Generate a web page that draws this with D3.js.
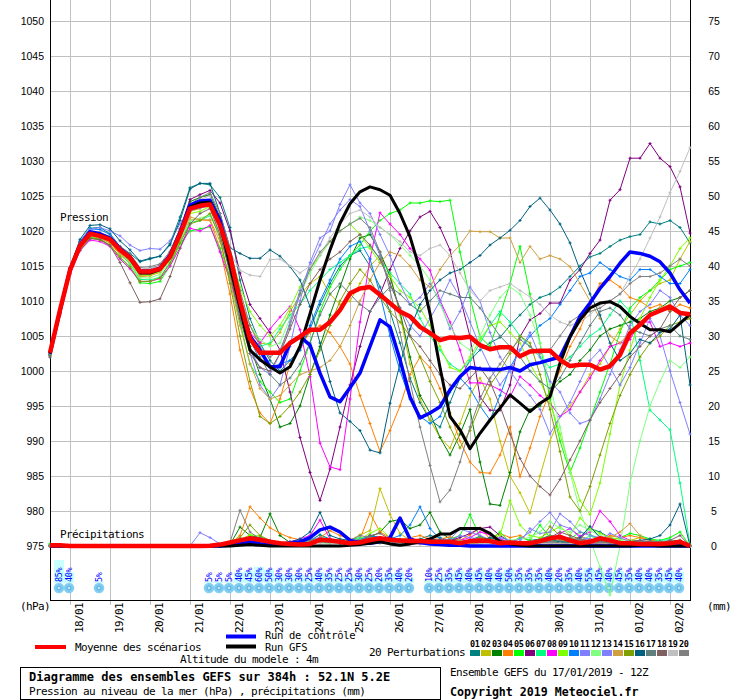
<!DOCTYPE html>
<html>
<head>
<meta charset="utf-8">
<script src="https://cdn.jsdelivr.net/npm/d3@7"></script>
<style>
  body { margin: 0; background: #fff; }
</style>
</head>
<body>
<div id="chart"></div>
<script>
// ---- axis labels / categories ----
const pressureTicks = [975, 980, 985, 990, 995, 1000, 1005, 1010, 1015, 1020, 1025, 1030, 1035, 1040, 1045, 1050];
const precipTicks = [0, 5, 10, 15, 20, 25, 30, 35, 40, 45, 50, 55, 60, 65, 70, 75];
const dayIdx = [2, 6, 10, 14, 18, 22, 26, 30, 34, 38, 42, 46, 50, 54, 58, 62]; // 6h steps from 17/01 12Z
const dayLabels = ['18/01', '19/01', '20/01', '21/01', '22/01', '23/01', '24/01', '25/01',
                   '26/01', '27/01', '28/01', '29/01', '30/01', '31/01', '01/02', '02/02'];

const pertColors = ['#008080', '#c0c000', '#008000', '#ff8000', '#00ff00', '#800080', '#00ff80', '#ff00ff',
                    '#80ff00', '#0080ff', '#8080ff', '#80ff80', '#8080ff', '#d0a040', '#80a000', '#006080',
                    '#608080', '#806060', '#c0c0c0', '#808080'];

// ---- sea level pressure (hPa), every 6h, 65 steps ----
const p01 = [1002.0,1008.5,1014.6,1018.5,1020.4,1020.5,1019.6,1017.8,1016.8,1015.6,1016.0,1016.4,1018.2,
  1022.0,1026.2,1026.8,1026.6,1024.8,1020.5,1013.0,1007.5,1004.0,1001.5,1000.0,1001.5,1003.0,
  1006.0,1009.5,1012.5,1015.0,1016.5,1017.2,1015.0,1012.0,1008.5,1004.0,999.0,995.5,993.0,
  992.0,995.5,999.0,1001.5,1003.0,1004.0,1004.8,1006.5,1008.0,1009.5,1010.5,1011.0,1012.0,
  1013.5,1015.0,1016.3,1016.8,1017.8,1018.7,1019.2,1019.5,1021.3,1021.0,1021.5,1020.5,1018.3];
const p02 = [1002.2,1008.4,1014.2,1017.6,1019.2,1019.0,1018.4,1016.9,1015.6,1013.8,1013.9,1014.4,1016.4,
  1019.4,1022.8,1023.2,1023.9,1021.5,1016.5,1010.5,1006.5,1004.0,1003.8,1005.5,1008.5,1010.8,
  1012.5,1013.5,1011.0,1009.5,1010.0,1012.5,1015.0,1016.5,1014.0,1008.0,1001.0,996.0,993.0,
  990.5,989.0,992.5,996.5,999.0,996.0,990.0,985.0,982.6,979.7,985.0,990.0,993.5,
  995.0,997.0,999.5,1001.0,1003.5,1006.0,1008.0,1010.0,1011.5,1012.5,1013.0,1016.0,1018.5];
const p03 = [1002.4,1008.9,1014.6,1018.3,1019.8,1019.4,1018.6,1017.1,1015.8,1014.0,1014.3,1014.9,1016.6,
  1020.0,1024.2,1024.8,1025.2,1022.0,1016.0,1009.0,1003.5,999.5,996.0,992.0,992.5,995.0,
  999.5,1003.5,1008.0,1012.0,1016.0,1019.0,1019.5,1017.0,1013.5,1008.5,1002.0,996.5,994.0,
  990.5,988.0,991.0,994.5,987.0,981.0,980.8,985.5,991.3,994.5,995.0,997.0,998.5,
  999.5,1001.5,1003.0,1005.0,1006.0,1006.5,1007.0,1007.5,1008.5,1009.0,1010.0,1010.5,1011.5];
const p04 = [1002.5,1008.3,1014.0,1017.4,1019.0,1018.9,1018.3,1016.6,1015.4,1013.5,1013.6,1014.1,1016.0,
  1019.0,1021.6,1021.6,1021.5,1017.5,1011.0,1003.0,997.5,994.0,992.5,996.0,1001.0,1003.5,
  1005.5,1006.5,1005.5,1003.5,1001.0,996.5,992.5,988.5,991.5,995.0,999.5,1002.0,1000.5,
  997.5,994.0,990.0,987.0,985.5,985.4,988.0,992.0,984.9,989.0,993.5,997.0,1000.0,
  1003.5,1006.0,1009.5,1012.5,1013.0,1012.0,1010.5,1010.0,1009.0,1009.5,1008.5,1009.5,1009.0];
const p05 = [1002.3,1008.5,1014.1,1017.6,1019.1,1018.8,1018.0,1016.2,1014.8,1012.6,1012.5,1012.8,1015.0,
  1018.2,1020.0,1020.3,1020.6,1017.5,1013.5,1007.0,1001.0,998.5,997.0,995.5,996.0,1000.0,
  1004.0,1008.5,1012.0,1014.5,1016.5,1018.0,1020.0,1021.5,1022.5,1023.0,1024.0,1024.0,1024.3,
  1024.2,1024.4,1017.0,1010.5,1004.9,1003.5,1008.0,1012.5,1017.8,1011.0,1004.0,996.0,990.0,
  985.5,989.0,993.0,997.0,1001.0,1005.5,1009.0,1010.5,1011.5,1013.0,1014.5,1015.0,1015.5];
const p06 = [1002.4,1008.6,1014.5,1018.1,1019.8,1019.5,1019.0,1017.5,1016.3,1014.5,1014.6,1015.1,1016.9,
  1020.3,1024.5,1025.2,1025.8,1024.0,1020.0,1014.0,1009.5,1007.5,1005.5,1003.0,997.0,990.5,
  985.5,981.5,986.0,992.0,998.0,1003.5,1008.5,1011.0,1014.5,1017.5,1020.0,1022.0,1022.8,
  1020.5,1017.3,1010.6,1004.9,996.3,994.4,994.4,998.0,1004.9,1007.3,1008.2,1009.7,1009.7,
  1013.0,1014.5,1016.8,1018.7,1024.4,1025.9,1030.4,1030.4,1032.5,1030.4,1029.2,1026.3,1019.7];
const p07 = [1002.2,1008.6,1014.3,1017.8,1019.4,1019.1,1018.5,1016.8,1015.3,1013.1,1013.0,1013.4,1015.5,
  1018.6,1021.2,1021.5,1022.2,1019.5,1014.5,1009.0,1005.0,1003.5,1004.0,1006.0,1008.0,1009.5,
  1011.5,1013.0,1014.5,1015.5,1016.5,1017.5,1017.8,1016.0,1014.0,1012.5,1011.0,1007.5,1005.0,
  1003.0,1001.0,1000.0,1001.5,1004.0,1006.5,1008.5,1007.0,1005.0,1003.5,1002.0,1000.5,1001.0,
  1002.0,1003.5,1005.0,1006.0,1008.0,1010.0,1008.5,1001.5,994.4,993.0,991.6,984.0,975.2];
const p08 = [1002.3,1008.2,1013.8,1017.2,1018.7,1018.5,1017.8,1016.0,1014.6,1012.8,1012.8,1013.2,1015.0,
  1017.6,1020.4,1020.0,1020.8,1017.0,1013.0,1008.5,1005.5,1004.0,1006.0,1007.7,1009.2,1005.9,
  999.2,989.7,986.3,985.9,996.0,1007.0,1016.0,1022.6,1021.0,1019.5,1017.5,1016.0,1014.4,
  1010.1,1007.0,1003.0,998.3,998.3,998.0,997.3,996.3,999.2,998.0,996.5,995.4,993.5,
  994.5,997.0,999.0,1001.5,1003.5,1004.0,1004.5,1007.0,1007.0,1003.5,1004.0,1003.5,1004.0];
const p09 = [1002.5,1008.8,1014.5,1018.0,1019.7,1019.4,1018.7,1017.0,1015.7,1013.6,1013.7,1014.2,1016.0,
  1019.2,1022.5,1022.8,1023.5,1021.0,1017.0,1012.0,1008.5,1006.5,1005.0,1006.5,1009.0,1012.0,
  1014.5,1016.5,1018.5,1020.0,1021.0,1019.5,1017.5,1015.5,1013.5,1011.5,1010.5,1009.0,1006.5,
  1003.5,1000.5,1000.0,1002.0,1004.5,1006.5,1007.0,1005.5,1004.0,1001.0,998.5,995.5,991.0,
  986.0,981.5,979.5,984.0,991.0,998.0,1003.0,1007.5,1010.5,1013.0,1015.0,1017.5,1019.0];
const p10 = [1002.6,1008.8,1014.7,1018.4,1020.3,1020.2,1019.5,1017.7,1016.5,1014.5,1014.4,1014.8,1016.6,
  1019.8,1023.5,1024.0,1024.0,1020.5,1015.5,1009.0,1004.5,1001.5,1000.5,1001.0,1001.5,1003.0,
  1006.5,1010.0,1013.0,1016.0,1017.8,1018.5,1016.0,1011.0,1005.0,1000.0,996.0,993.5,992.5,
  993.5,997.0,999.0,997.5,995.0,993.0,996.5,1000.5,1003.0,1005.0,1006.5,1007.5,1009.5,
  1011.5,1013.5,1014.0,1015.5,1014.5,1013.5,1013.0,1014.5,1014.5,1013.5,1012.5,1012.5,1014.5];
const p11 = [1002.4,1008.6,1014.7,1018.6,1020.2,1020.5,1020.0,1019.3,1018.0,1017.2,1017.5,1017.4,1018.6,
  1021.0,1023.3,1023.7,1024.3,1021.0,1015.5,1008.5,1002.5,998.0,996.0,998.0,1003.5,1010.0,
  1015.5,1019.0,1020.0,1023.8,1026.6,1024.0,1022.5,1019.5,1016.5,1012.5,1009.5,1010.5,1012.5,
  1010.0,1006.0,1008.5,1012.0,1010.0,1005.5,1002.0,1000.0,998.0,996.5,994.5,991.0,993.5,
  995.5,998.5,1001.5,1003.0,1000.5,998.0,1000.5,1004.0,1007.5,1005.0,1000.0,995.5,991.0];
const p12 = [1002.3,1008.5,1014.2,1017.7,1019.3,1019.1,1018.5,1016.8,1015.5,1013.3,1013.3,1013.8,1015.8,
  1018.7,1021.5,1021.8,1022.3,1020.0,1015.5,1010.0,1006.5,1004.5,1003.5,1004.0,1007.5,1011.0,
  1014.0,1016.5,1018.5,1020.0,1021.0,1022.0,1021.5,1020.5,1019.5,1018.0,1016.5,1015.0,1013.0,
  1009.5,1006.5,1004.0,1003.0,1005.0,1008.0,1010.5,1012.0,1011.0,1008.0,1004.0,998.0,992.0,
  985.5,980.0,976.0,972.0,968.0,975.0,984.0,990.0,995.0,998.5,1001.5,1000.5,1002.0];
const p13 = [1002.5,1008.7,1014.4,1017.9,1019.5,1019.3,1018.7,1017.2,1016.0,1014.0,1014.0,1014.5,1016.3,
  1019.6,1022.9,1023.3,1023.6,1020.5,1015.0,1008.0,1003.0,1000.5,999.5,1002.5,1007.0,1011.5,
  1015.0,1018.0,1021.0,1023.0,1024.5,1023.5,1020.0,1016.5,1012.5,1009.0,1006.5,1005.0,1007.5,
  1010.0,1013.0,1010.5,1007.0,1003.5,1000.5,998.0,1000.0,1003.0,1005.5,1002.0,998.5,997.0,
  994.0,992.5,993.0,996.0,999.5,1003.0,1006.5,1008.5,1009.5,1011.5,1010.5,1008.0,1006.5];
const p14 = [1002.5,1008.4,1014.2,1017.7,1019.3,1019.0,1018.4,1016.8,1015.7,1013.7,1013.8,1014.3,1016.1,
  1019.1,1022.0,1021.6,1021.6,1018.5,1013.0,1006.5,1001.0,997.5,996.0,996.5,998.0,999.5,
  1000.0,1000.5,1001.5,1003.5,1006.5,1010.0,1013.0,1015.5,1017.0,1016.5,1015.0,1013.0,1012.0,
  1014.5,1016.5,1018.0,1020.0,1019.9,1019.9,1019.0,1019.0,1015.5,1017.8,1016.0,1016.5,1016.0,
  1014.9,1012.5,1010.0,1007.5,1005.0,1004.0,1005.5,1007.0,1008.0,1009.0,1009.5,1008.5,1008.0];
const p15 = [1002.2,1008.3,1014.0,1017.5,1019.0,1018.7,1018.0,1016.3,1014.9,1012.8,1012.8,1013.3,1015.4,
  1018.3,1021.0,1021.5,1022.5,1019.0,1012.5,1005.0,998.5,993.5,992.5,993.5,995.0,997.0,
  999.5,1003.0,1006.5,1010.0,1012.5,1014.5,1013.0,1010.5,1008.5,1007.0,1005.0,1002.0,998.5,
  995.5,992.0,989.0,991.5,995.0,998.0,1000.0,1002.5,1005.0,1004.0,999.5,994.5,988.5,
  982.0,980.0,983.5,988.0,992.5,996.5,999.5,1002.0,1004.0,1005.0,1006.5,1007.0,1007.5];
const p16 = [1002.3,1008.7,1014.8,1018.8,1020.8,1020.9,1020.3,1018.6,1017.3,1015.7,1016.1,1016.4,1018.0,
  1021.5,1026.0,1026.8,1026.8,1022.5,1017.6,1016.8,1016.1,1016.1,1017.3,1016.4,1014.9,1013.0,
  1009.2,1004.0,998.5,994.0,992.8,991.5,988.7,988.3,995.4,1001.0,1006.0,1009.5,1011.5,
  1013.0,1014.0,1014.5,1015.5,1016.5,1018.0,1019.0,1020.1,1021.5,1023.5,1024.7,1023.0,1021.0,
  1018.3,1014.4,1011.0,1008.0,1004.0,1001.5,1002.5,1004.5,1004.0,1005.5,1006.0,1008.0,998.0];
const p17 = [1002.4,1008.6,1014.3,1017.9,1019.5,1019.3,1018.7,1017.2,1016.1,1014.1,1014.2,1014.6,1016.4,
  1019.6,1023.0,1023.5,1024.0,1021.0,1016.0,1010.5,1005.5,1002.0,999.5,998.0,999.0,1001.0,
  1004.0,1008.0,1011.0,1012.5,1011.0,1009.5,1008.5,1010.5,1012.0,1011.0,1009.5,1008.5,1010.0,
  1011.5,1011.0,1010.5,1010.5,1009.0,1007.0,1005.0,1003.5,1002.0,1000.0,998.5,997.5,999.0,
  1001.5,1004.0,1006.5,1008.5,1009.0,1008.0,1006.0,1005.5,1005.0,1006.0,1006.5,1005.0,1004.5];
const p18 = [1002.0,1008.0,1014.0,1017.2,1018.9,1018.8,1017.9,1015.5,1012.6,1009.8,1009.9,1010.3,1013.5,
  1017.5,1021.0,1022.5,1023.2,1019.5,1014.0,1007.5,1002.5,1000.5,1000.0,1002.5,1006.0,1009.5,
  1012.5,1014.5,1016.0,1017.0,1018.5,1019.5,1018.0,1016.0,1012.5,1009.0,1005.0,1003.5,1001.5,
  999.5,998.0,997.5,999.0,1000.5,998.5,995.0,991.0,987.5,985.0,983.5,982.3,984.5,
  987.3,990.0,993.0,995.5,997.5,999.5,1002.0,1003.5,1005.0,1006.0,1008.5,1010.5,1011.5];
const p19 = [1002.5,1008.7,1014.5,1018.1,1019.8,1019.6,1019.0,1017.6,1016.4,1014.5,1014.7,1015.0,1016.8,
  1020.0,1023.5,1024.5,1025.0,1021.5,1017.0,1014.4,1013.7,1013.5,1015.9,1016.0,1015.0,1014.0,
  1015.0,1016.5,1019.0,1021.0,1022.5,1023.0,1022.0,1020.5,1019.5,1018.5,1017.0,1016.5,1017.5,
  1018.0,1016.5,1014.0,1011.5,1010.0,1011.5,1012.0,1012.5,1011.5,1010.6,1009.5,1008.0,1007.0,
  1006.5,1007.0,1008.0,1009.5,1010.0,1011.0,1013.5,1016.0,1019.0,1022.0,1025.5,1028.5,1031.9];
const p20 = [1002.4,1008.7,1014.6,1018.2,1019.9,1019.7,1019.2,1017.8,1016.7,1014.8,1014.9,1015.3,1017.1,
  1020.3,1023.8,1024.8,1025.5,1022.5,1017.5,1011.5,1006.5,1003.5,1002.0,1003.0,1006.5,1011.0,
  1014.5,1017.0,1018.5,1020.0,1021.0,1021.8,1020.5,1017.0,1011.5,1005.5,998.5,992.0,986.5,
  981.3,983.0,987.0,992.0,996.0,999.0,1001.0,1003.0,1004.5,1003.5,1002.5,1003.0,1005.0,
  1007.0,1008.0,1008.5,1009.0,1010.0,1011.0,1012.5,1013.5,1013.5,1014.0,1015.0,1016.0,1015.0];

const pControl = [1002.5,1008.6,1014.5,1018.0,1019.9,1019.6,1019.0,1017.5,1016.3,1014.3,1014.2,1014.7,1016.5,
  1019.8,1023.7,1024.3,1024.4,1021.5,1016.0,1009.5,1005.0,1003.0,1000.6,1000.6,1004.0,1004.9,
  1003.7,999.7,996.3,995.6,997.6,999.7,1003.5,1007.3,1006.3,1001.6,996.3,993.3,994.0,
  994.9,997.3,999.2,1000.5,1000.3,1000.2,1000.2,1000.5,1000.0,1000.9,1001.2,1001.6,1002.0,
  1004.9,1007.8,1009.7,1011.8,1013.5,1015.4,1017.0,1016.8,1016.4,1015.6,1014.0,1011.6,1009.7];
const pGfs = [1002.5,1008.6,1014.4,1017.9,1019.7,1019.4,1018.9,1017.3,1016.1,1014.0,1014.0,1014.5,1016.3,
  1019.6,1023.4,1024.0,1024.1,1021.0,1015.0,1009.0,1003.0,1001.6,1000.6,999.7,1000.6,1003.5,
  1008.2,1013.0,1017.3,1021.1,1023.9,1025.6,1026.3,1025.9,1025.1,1022.5,1019.2,1014.4,1008.2,
  1000.5,993.5,991.6,988.9,991.1,993.0,994.7,996.6,995.4,994.2,995.4,996.3,1001.1,
  1004.9,1007.3,1009.0,1009.7,1009.9,1009.2,1007.8,1006.8,1005.9,1005.9,1005.6,1006.8,1008.1];
const pMean = [1002.6,1008.7,1014.4,1017.9,1019.6,1019.3,1018.8,1017.3,1016.2,1014.2,1014.2,1014.6,1016.3,
  1019.5,1023.2,1023.6,1023.8,1020.8,1016.5,1010.0,1004.6,1002.6,1002.6,1002.6,1004.0,1004.9,
  1005.9,1005.9,1007.0,1008.7,1011.1,1011.8,1012.0,1010.9,1009.7,1008.5,1007.8,1006.3,1005.4,
  1004.4,1004.8,1004.7,1004.9,1003.7,1003.1,1003.4,1003.4,1002.1,1002.8,1002.9,1002.9,1001.6,
  1000.7,1000.9,1000.9,1000.2,1000.7,1002.3,1005.4,1006.6,1008.0,1008.6,1009.2,1008.3,1008.1];

// ---- precipitation (mm / 6h) ----
const r01 = [0.2,0,0,0,0,0,0,0,0,0,0,0,0,
  0,0,0,0,0,0.3,0.8,1.2,0.9,0.6,0.3,0.2,0.2,
  0.8,1.6,1.0,0.6,0.4,0.8,1.5,1.2,0.8,0.6,0.5,1.0,1.5,
  1.2,0.8,0.6,0.8,1.4,0.7,0.5,0.6,0.4,0.8,1.0,1.5,1.3,
  0.8,1.0,2.5,2.0,1.2,0.6,0.4,0.3,0.5,0.6,0.7,0.8,0];
const r02 = [0,0,0,0,0,0,0,0,0,0,0,0,0,
  0,0,0,0,0,0.1,0.6,1.2,0.8,0.5,0.3,0.1,0.2,
  0.5,0.9,0.7,0.5,0.8,1.6,2.2,8.2,4.5,1.8,0.8,0.5,0.4,
  0.4,0.6,0.8,0.5,0.3,0.6,0.6,0.8,0.4,0.3,0.5,1.4,0.9,
  0.6,0.4,0.3,0.4,0.3,0.3,0.8,1.2,0.9,0.6,0.4,0.3,0];
const r03 = [0,0,0,0,0,0,0,0,0,0,0,0,0,
  0,0,0,0,0,0.2,2.7,1.5,1.2,4.6,1.5,0.5,0.3,
  0.6,1.2,1.0,0.6,0.5,0.7,1.2,2.0,3.5,3.8,2.5,3.0,4.8,
  2.0,1.0,0.8,0.6,1.2,0.8,0.6,0.4,0.3,0.5,0.6,0.8,0.6,
  0.5,0.5,0.4,0.3,0.5,0.4,0.6,0.4,0.3,0.5,0.4,0.6,0];
const r04 = [0,0,0,0,0,0,0,0,0,0,0,0,0,
  0,0,0,0,0,0.3,1.5,5.6,4.0,2.6,1.8,1.2,0.9,
  0.8,1.2,2.2,1.5,1.0,1.0,4.7,2.0,1.2,0.9,1.2,1.5,1.0,
  1.0,1.3,0.8,1.6,2.6,1.0,1.8,1.2,1.5,0.7,0.5,0.6,0.8,
  0.6,1.4,0.9,0.6,1.5,1.2,1.5,1.2,0.8,0.6,0.5,0.8,0];
const r05 = [0.3,0,0,0,0,0,0,0,0,0,0,0,0,
  0,0,0,0,0,0.2,0.9,1.0,0.8,0.6,0.4,0.3,0.5,
  0.6,0.5,0.4,0.6,0.7,0.5,0.6,0.8,1.0,0.6,0.5,0.4,0.5,
  0.8,1.0,1.5,4.5,1.2,0.8,2.0,0.5,1.2,0.8,3.0,1.2,0.6,
  1.0,2.0,1.6,1.0,0.8,1.2,1.8,1.5,1.0,0.8,1.2,2.0,0];
const r06 = [0,0,0,0,0,0,0,0,0,0,0,0,0,
  0,0,0,0,0,0.1,0.3,0.5,0.4,0.3,0.2,0.2,0.3,
  0.6,0.8,0.5,0.4,0.5,0.6,0.8,0.6,0.5,0.4,0.3,0.3,0.4,
  0.6,0.8,1.2,1.8,2.5,2.7,1.5,0.6,0.4,0.3,0.5,0.4,0.3,
  0.3,0.5,0.4,0.3,0.4,0.3,0.3,0.3,0.4,0.3,0.3,0.4,0];
const r07 = [0,0,0,0,0,0,0,0,0,0,0,0,0,
  0,0,0,0,0,0.1,0.5,1.5,0.8,0.4,0.3,0.2,0.3,
  0.5,0.8,0.6,0.5,0.9,1.2,0.8,0.6,0.5,1.0,0.6,0.5,0.8,
  0.6,0.4,0.5,0.6,0.8,0.5,0.4,0.6,0.5,0.4,0.6,0.8,0.5,
  0.4,0.6,1.5,0.8,0.5,0.6,0.4,0.5,0.6,0.8,0.9,0.5,0];
const r08 = [0,0,0,0,0,0,0,0,0,0,0,0,0,
  0,0,0,0,0,0.1,0.5,1.2,0.8,0.4,0.3,0.6,1.0,
  1.5,3.7,1.0,0.6,0.5,0.4,0.5,0.6,0.8,0.7,0.5,0.4,0.6,
  0.5,0.6,0.8,1.2,2.0,1.6,1.0,0.6,0.5,0.6,0.4,0.8,1.8,
  2.5,1.4,2.0,5.0,3.5,1.5,0.8,0.6,0.5,0.4,0.6,0.8,0];
const r09 = [0,0,0,0,0,0,0,0,0,0,0,0,0,
  0,0,0,0,0,0.2,0.9,1.6,1.4,0.6,0.4,0.3,0.5,
  0.6,0.5,0.6,0.8,0.6,1.0,1.8,2.5,1.2,0.8,0.6,0.5,0.6,
  0.6,0.7,0.5,0.6,0.8,1.0,1.5,6.5,3.0,1.5,1.2,2.0,2.8,
  1.5,4.0,2.5,1.8,1.2,1.0,0.8,0.6,0.6,0.5,0.6,0.8,0];
const r10 = [0,0,0,0,0,0,0,0,0,0,0,0,0,
  0,0,0,0,0,0.1,0.4,0.8,1.2,0.8,0.5,0.4,0.6,
  1.0,0.8,0.6,0.5,0.7,0.9,1.5,1.2,1.0,1.5,3.0,5.6,2.5,
  1.0,0.8,0.6,0.5,0.4,0.6,0.5,0.4,0.6,0.5,0.4,0.5,0.6,
  0.5,0.7,0.8,0.6,0.5,0.4,0.5,0.6,0.7,0.5,0.6,0.5,0];
const r11 = [0,0,0,0,0,0,0,0,0,0,0,0,0,
  0,0,1.9,1.2,0.3,0.2,0.4,0.6,0.5,0.4,0.3,0.2,0.3,
  0.5,0.8,0.6,0.5,0.6,0.8,1.0,1.2,0.8,0.6,0.5,0.4,0.6,
  0.8,1.0,2.4,2.0,1.5,0.9,1.2,0.8,0.6,2.5,1.8,2.0,4.6,
  3.5,2.0,1.5,1.2,0.8,0.6,0.5,0.4,0.6,0.5,0.6,0.7,0];
const r12 = [0,0,0,0,0,0,0,0,0,0,0,0,0,
  0,0,0,0,0,0.1,0.3,0.6,0.5,0.4,0.3,0.2,0.4,
  0.6,0.5,0.4,0.5,0.6,0.8,1.0,0.9,0.7,0.6,0.5,0.6,0.8,
  0.6,0.5,0.8,0.6,0.5,0.4,0.6,0.8,1.0,1.2,2.0,3.5,2.5,
  2.0,3.0,2.2,1.5,1.0,0.8,0.6,0.6,0.5,0.4,0.5,0.6,0];
const r13 = [0,0,0,0,0,0,0,0,0,0,0,0,0,
  0,0,0,0,0,0.1,0.5,0.9,0.6,0.5,0.4,0.3,0.6,
  0.9,1.2,0.8,0.6,0.5,0.7,0.9,0.6,0.5,0.8,1.0,0.8,0.6,
  0.5,0.8,1.5,1.2,1.0,0.8,0.6,0.5,1.0,2.0,3.5,4.8,3.0,
  2.5,1.2,1.0,0.8,1.8,1.2,0.6,0.4,0.5,0.6,0.5,0.6,0];
const r14 = [0,0,0,0,0,0,0,0,0,0,0,0,0,
  0,0,0,0,0,0.2,0.8,1.0,0.8,0.6,0.5,0.5,0.4,
  0.5,0.6,0.8,0.6,0.5,0.6,0.5,0.4,0.5,0.6,0.5,0.8,0.6,
  0.5,0.6,0.5,0.4,0.3,0.5,0.4,0.5,0.6,0.4,0.5,0.6,0.4,
  0.5,0.6,0.8,1.0,1.2,2.0,3.2,1.5,0.6,0.4,0.5,0.6,0];
const r15 = [0,0,0,0,0,0,0,0,0,0,0,0,0,
  0,0,0,0,0,0.3,1.2,3.0,1.5,0.8,0.5,0.4,0.6,
  0.8,1.0,0.6,0.4,0.5,0.6,0.8,1.0,0.8,0.6,0.5,0.6,0.5,
  0.6,0.8,0.6,0.5,1.2,1.0,0.6,0.5,0.4,0.6,0.8,2.8,1.5,
  1.0,0.8,0.6,0.5,0.4,0.6,0.5,0.4,0.5,0.6,0.4,0.5,0];
const r16 = [0,0,0,0,0,0,0,0,0,0,0,0,0,
  0,0,0,0,0,0.1,0.3,0.5,0.4,0.3,0.4,0.6,1.0,
  2.0,4.8,1.5,1.0,0.8,0.6,0.5,0.8,1.2,0.9,0.6,0.5,1.0,
  0.8,0.6,0.5,0.6,0.8,1.2,0.8,0.6,0.5,0.6,0.8,1.0,0.6,
  0.5,1.2,2.8,1.2,0.6,0.5,0.6,0.8,1.0,1.5,3.0,6.0,0];
const r17 = [0,0,0,0,0,0,0,0,0,0,0,0,0,
  0,0,0,0,0,0.1,0.4,0.8,0.6,0.5,0.4,0.3,0.5,
  0.8,0.6,0.5,0.4,0.6,0.8,1.2,0.9,0.6,0.5,0.4,0.5,0.6,
  0.5,0.6,0.4,0.5,0.8,0.6,0.4,0.5,0.6,0.4,0.5,0.6,0.5,
  0.4,0.5,0.6,0.8,0.5,0.4,0.5,0.6,0.5,0.4,0.5,0.6,0];
const r18 = [0,0,0,0,0,0,0,0,0,0,0,0,0,
  0,0,0,0,0,0.2,0.6,0.8,0.6,0.5,0.4,0.3,0.4,
  0.5,0.6,0.8,0.6,0.5,0.6,1.5,1.8,1.0,0.6,0.5,0.4,0.6,
  0.5,0.4,0.6,0.5,0.4,0.6,0.8,0.6,0.5,0.4,0.8,1.2,2.0,
  1.5,1.0,0.8,0.6,0.5,0.4,0.6,0.8,0.6,0.5,0.8,1.5,0];
const r19 = [0,0,0,0,0,0,0,0,0,0,0,0,0,
  0,0,0,0,0,0.1,0.3,0.4,0.3,0.2,0.2,0.3,0.4,
  0.4,0.3,0.3,0.4,0.5,0.4,0.3,0.4,0.3,0.3,0.4,0.3,0.4,
  0.3,0.4,0.3,0.2,0.3,0.4,0.3,0.3,0.4,0.3,0.3,0.4,0.3,
  0.3,0.4,0.3,0.3,0.4,0.3,0.3,0.4,0.3,0.4,0.3,0.4,0];
const r20 = [0,0,0,0,0,0,0,0,0,0,0,0,0,
  0,0,0,0,0,0.5,5.1,2.0,1.0,0.6,0.4,0.3,0.5,
  0.6,0.8,0.6,0.5,0.8,1.5,1.2,0.8,0.6,0.5,0.4,0.5,0.6,
  0.5,0.4,0.5,0.8,1.0,0.6,0.5,0.4,0.5,0.6,0.5,0.6,0.8,
  1.2,0.8,0.6,0.5,0.4,0.5,0.6,0.4,0.5,0.6,0.5,0.8,0];

const rControl = [0,0,0,0,0,0,0,0,0,0,0,0,0,
  0,0,0,0,0,0.1,0.4,0.6,0.3,0.2,0.3,0.4,0.6,
  1.2,2.3,2.7,2.0,0.8,0.5,0.4,0.6,1.2,4.0,1.0,0.5,0.3,
  0.2,0.1,0.1,0,0,0,0,0,0,0,0,0,0,
  0,0,0,0,0,0,0,0,0,0,0,0,0];
const rGfs = [0,0,0,0,0,0,0,0,0,0,0,0,0,
  0,0,0,0,0,0,0.1,0.2,0.1,0,0,0,0,
  0,0,0,0,0.1,0.2,0.4,0.6,0.3,0.1,0.3,0.6,1.0,
  1.7,1.7,2.5,2.5,2.5,1.8,0.6,0.3,0.1,0,0,0,0,
  0,0,0,0,0,0,0,0.1,0.1,0,0,0,0];
const rMean = [0.1,0.1,0,0,0,0,0,0,0,0,0,0,0,
  0,0,0,0.05,0.2,0.5,0.8,1.1,0.9,0.6,0.4,0.3,0.2,
  0.3,0.9,0.8,0.6,0.4,0.5,0.85,1.1,0.9,0.8,0.7,0.7,0.6,
  0.6,0.6,0.4,0.7,0.8,0.7,0.4,0.5,0.4,0.4,0.7,1.1,1.3,
  0.8,0.4,0.6,1.1,0.8,0.4,0.4,0.3,0.3,0.3,0.4,0.6,0];

// ---- snow probability (%) per step, null = no snow ----
const snowPct = [null,85,40,null,null,5,null,null,null,null,null,null,null,
  null,null,null,5,5,5,40,45,60,50,30,30,30,
  25,40,35,25,25,30,25,20,35,40,20,null,10,
  25,35,45,40,45,40,40,50,35,35,35,40,20,
  35,40,55,45,40,45,35,40,40,35,45,40,null];

const pertPressure = [p01,p02,p03,p04,p05,p06,p07,p08,p09,p10,p11,p12,p13,p14,p15,p16,p17,p18,p19,p20];
const pertPrecip = [r01,r02,r03,r04,r05,r06,r07,r08,r09,r10,r11,r12,r13,r14,r15,r16,r17,r18,r19,r20];

// ---- drawing ----
const mono = "'DejaVu Sans Mono', 'Liberation Mono', monospace";
const sans = "'Liberation Sans', Arial, sans-serif";

const svg = d3.select('#chart').append('svg')
  .attr('width', 740).attr('height', 700)
  .style('display', 'block');
svg.append('rect').attr('width', 740).attr('height', 700).attr('fill', '#fff');

const x = d3.scaleLinear().domain([0, 64]).range([50, 690]);
const y = d3.scaleLinear().domain([975, 1050]).range([546, 21]);
const yR = d3.scaleLinear().domain([0, 75]).range([546, 21]);

// horizontal grid + pressure labels
const gLeft = svg.append('g').attr('transform', 'translate(50,0)')
  .call(d3.axisLeft(y).tickValues(pressureTicks).tickSize(-640).tickPadding(6).tickFormat(d3.format('d')));
gLeft.select('.domain').remove();
gLeft.selectAll('.tick line').attr('stroke', '#c0c0c0');
gLeft.selectAll('.tick text').attr('font-family', sans).attr('font-size', 10.5).attr('fill', '#000');

// vertical day grid + date labels
const gBot = svg.append('g').attr('transform', 'translate(0,605)')
  .call(d3.axisBottom(x).tickValues(dayIdx).tickSize(-605).tickFormat((d, i) => dayLabels[i]));
gBot.select('.domain').remove();
gBot.selectAll('.tick line').attr('stroke', '#c0c0c0');
gBot.selectAll('.tick text')
  .attr('transform', 'rotate(-90)')
  .attr('x', 2).attr('y', 12).attr('dy', null)
  .attr('text-anchor', 'end')
  .attr('font-family', mono).attr('font-size', 11).attr('letter-spacing', -0.62)
  .attr('fill', '#000');

// precipitation labels on the right
const gRight = svg.append('g').attr('transform', 'translate(690,0)')
  .call(d3.axisRight(yR).tickValues(precipTicks).tickSize(0).tickPadding(24));
gRight.select('.domain').remove();
gRight.selectAll('.tick text').attr('text-anchor', 'middle')
  .attr('font-family', sans).attr('font-size', 10.5).attr('fill', '#000');

// frame
svg.append('line').attr('x1', 50.5).attr('x2', 50.5).attr('y1', 0).attr('y2', 600).attr('stroke', '#000');
svg.append('line').attr('x1', 690.5).attr('x2', 690.5).attr('y1', 0).attr('y2', 600).attr('stroke', '#000');
svg.append('line').attr('x1', 50).attr('x2', 691).attr('y1', 600.5).attr('y2', 600.5).attr('stroke', '#000');

// snow probability strip
const snowData = snowPct.map((v, i) => ({ i, v })).filter(d => d.v !== null);
const gSnow = svg.append('g');
gSnow.selectAll('rect.bg').data(snowData).enter().append('rect')
  .attr('x', d => x(d.i) - 6).attr('width', 10)
  .attr('y', d => 583 - d.v * 0.27).attr('height', d => d.v * 0.27)
  .attr('fill', '#c8ffff');
const flakes = gSnow.selectAll('g.flake').data(snowData).enter().append('g')
  .attr('transform', d => `translate(${x(d.i) - 1},588)`);
flakes.append('circle').attr('r', 5.3).attr('fill', '#86d0f2');
flakes.append('path').attr('d', 'M-3.5,0H3.5M0,-3.5V3.5M-2.4,-2.4L2.4,2.4M-2.4,2.4L2.4,-2.4')
  .attr('stroke', '#4fa8df').attr('stroke-width', 0.8);
flakes.append('circle').attr('r', 1).attr('fill', '#dff6ff');
gSnow.selectAll('text').data(snowData).enter().append('text')
  .attr('transform', d => `translate(${x(d.i) + 2},582) rotate(-90)`)
  .attr('font-family', mono).attr('font-size', 8.5).attr('letter-spacing', -0.4)
  .attr('fill', '#0000ff')
  .text(d => d.v + '%');

// series
const linePress = d3.line().x((d, i) => x(i)).y(d => y(d));
const lineRain = d3.line().x((d, i) => x(i)).y(d => yR(d));
const crossPath = (cx, cy) => `M${cx - 1.5},${cy}h3M${cx},${cy - 1.5}v3`;

const gPert = svg.append('g');
pertPressure.forEach((serie, k) => {
  const c = pertColors[k];
  const rain = pertPrecip[k];
  gPert.append('path').attr('d', lineRain(rain)).attr('fill', 'none').attr('stroke', c).attr('stroke-width', 1);
  gPert.append('path').attr('d', rain.map((d, i) => crossPath(x(i), yR(d))).join(''))
    .attr('stroke', c).attr('stroke-width', 1).attr('fill', 'none');
  gPert.append('path').attr('d', linePress(serie)).attr('fill', 'none').attr('stroke', c).attr('stroke-width', 1);
  gPert.append('path').attr('d', serie.map((d, i) => crossPath(x(i), y(d))).join(''))
    .attr('stroke', c).attr('stroke-width', 1).attr('fill', 'none');
});

const gMain = svg.append('g').attr('fill', 'none').attr('stroke-linejoin', 'round');
gMain.append('path').attr('d', lineRain(rControl)).attr('stroke', '#0000ff').attr('stroke-width', 3.5);
gMain.append('path').attr('d', lineRain(rGfs)).attr('stroke', '#000').attr('stroke-width', 3);
gMain.append('path').attr('d', lineRain(rMean)).attr('stroke', '#ff0000').attr('stroke-width', 4.5);
gMain.append('path').attr('d', linePress(pControl)).attr('stroke', '#0000ff').attr('stroke-width', 3.5);
gMain.append('path').attr('d', linePress(pGfs)).attr('stroke', '#000').attr('stroke-width', 3);
gMain.append('path').attr('d', linePress(pMean)).attr('stroke', '#ff0000').attr('stroke-width', 4.5);

// text helpers
function label(xp, yp, s, size, opts = {}) {
  return svg.append('text').attr('x', xp).attr('y', yp)
    .attr('font-family', opts.family || mono)
    .attr('font-size', size)
    .attr('font-weight', opts.bold ? 'bold' : 'normal')
    .attr('letter-spacing', opts.ls !== undefined ? opts.ls : -0.62)
    .attr('fill', opts.color || '#000')
    .attr('text-anchor', opts.anchor || 'start')
    .text(s);
}

label(60, 221, 'Pression', 11);
label(60, 538, 'Précipitations', 11);
label(20, 610, '(hPa)', 11);
label(707, 610, '(mm)', 11);

// legend: mean, control, gfs
svg.append('line').attr('x1', 35).attr('x2', 66).attr('y1', 647).attr('y2', 647).attr('stroke', '#ff0000').attr('stroke-width', 4);
svg.append('line').attr('x1', 226).attr('x2', 256).attr('y1', 636.5).attr('y2', 636.5).attr('stroke', '#0000ff').attr('stroke-width', 4);
svg.append('line').attr('x1', 226).attr('x2', 256).attr('y1', 646.5).attr('y2', 646.5).attr('stroke', '#000').attr('stroke-width', 4);
label(75, 651, 'Moyenne des scénarios', 11);
label(265, 639, 'Run de contrôle', 10.5, { ls: -0.3 });
label(265, 651, 'Run GFS', 10.5, { ls: -0.3 });
label(180, 663, 'Altitude du modele : 4m', 11);

// title box
svg.append('rect').attr('x', 20.5).attr('y', 667.5).attr('width', 420).attr('height', 32)
  .attr('fill', 'none').attr('stroke', '#000');
label(29, 681, 'Diagramme des ensembles GEFS sur 384h : 52.1N 5.2E', 12, { bold: true, ls: 0 });
label(29, 695, 'Pression au niveau de la mer (hPa) , précipitations (mm)', 11);

// perturbation colour legend
label(369, 656, '20 Perturbations', 11);
const gSw = svg.append('g');
gSw.selectAll('rect').data(pertColors).enter().append('rect')
  .attr('x', (d, i) => 470 + i * 11).attr('y', 650).attr('width', 10).attr('height', 6)
  .attr('fill', d => d);
gSw.selectAll('text').data(pertColors).enter().append('text')
  .attr('x', (d, i) => 470 + i * 11).attr('y', 647)
  .attr('font-family', mono).attr('font-size', 8.5).attr('font-weight', 'bold').attr('letter-spacing', -0.3)
  .text((d, i) => String(i + 1).padStart(2, '0'));

label(450, 676, 'Ensemble GEFS du 17/01/2019 - 12Z', 11);
label(450, 696, 'Copyright 2019 Meteociel.fr', 11.6, { bold: true, ls: 0 });
</script>
</body>
</html>
